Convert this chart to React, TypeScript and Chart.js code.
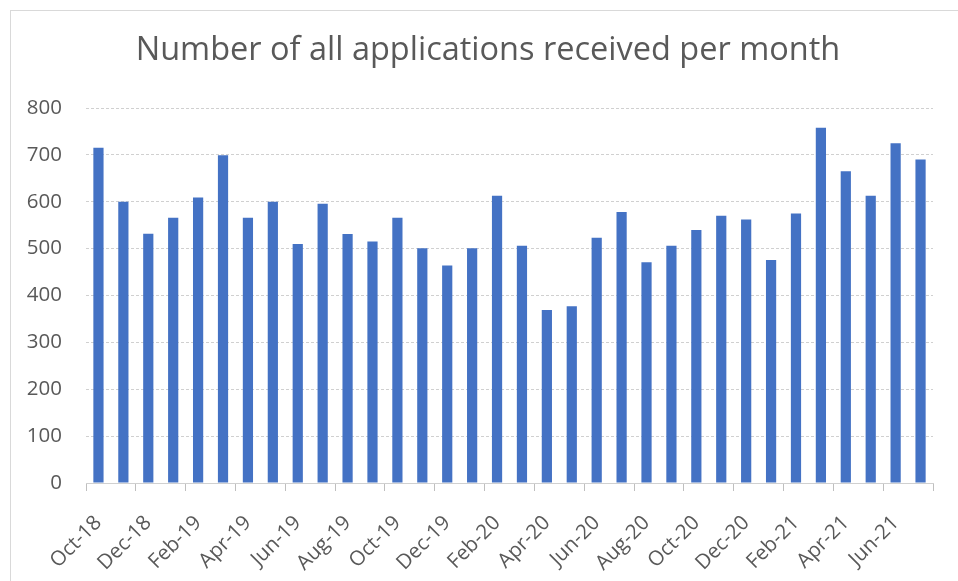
import React, { useEffect, useRef } from 'react';
import { Chart, registerables } from 'chart.js';

Chart.register(...registerables);

const chartTitle = 'Number of all applications received per month';

const months = [
  'Oct-18', 'Nov-18', 'Dec-18', 'Jan-19', 'Feb-19', 'Mar-19', 'Apr-19', 'May-19', 'Jun-19', 'Jul-19',
  'Aug-19', 'Sep-19', 'Oct-19', 'Nov-19', 'Dec-19', 'Jan-20', 'Feb-20', 'Mar-20', 'Apr-20', 'May-20',
  'Jun-20', 'Jul-20', 'Aug-20', 'Sep-20', 'Oct-20', 'Nov-20', 'Dec-20', 'Jan-21', 'Feb-21', 'Mar-21',
  'Apr-21', 'May-21', 'Jun-21', 'Jul-21',
];

const applications = [
  715, 600, 532, 566, 609, 699, 566, 600, 510, 596,
  531, 515, 566, 501, 464, 501, 613, 506, 369, 377,
  523, 578, 471, 506, 540, 570, 562, 476, 575, 758,
  665, 613, 725, 690,
];

const yMin = 0;
const yMax = 800;
const yStep = 100;

const titleShift = {
  id: 'titleShift',
  afterLayout(chart: any) {
    const t = chart.titleBlock;
    if (t) {
      const shift = 43;
      t.left += shift;
      t.width -= shift;
    }
  },
};

export default function App() {
  const ref = useRef<HTMLCanvasElement>(null);

  useEffect(() => {
    document.body.style.margin = '0';
    document.body.style.overflow = 'hidden';
    const font = "'Open Sans', 'Liberation Sans', sans-serif";
    const text = '#595959';
    const chart = new Chart(ref.current!, {
      type: 'bar',
      data: {
        labels: months,
        datasets: [
          {
            label: 'Applications',
            data: applications,
            backgroundColor: '#4472C4',
            borderWidth: 0,
            categoryPercentage: 1,
            barPercentage: 0.41,
          },
        ],
      },
      plugins: [titleShift],
      options: {
        responsive: false,
        animation: false,
        layout: { padding: { left: 0, right: 25, top: 0, bottom: 0 } },
        plugins: {
          legend: { display: false },
          tooltip: { enabled: false },
          title: {
            display: true,
            text: chartTitle,
            color: text,
            font: { family: font, size: 32.5, weight: 'normal' },
            padding: { top: 31.5, bottom: 37.5 },
          },
        },
        scales: {
          x: {
            offset: true,
            afterFit: (scale: any) => {
              scale.paddingLeft = 0;
              scale.paddingRight = 0;
              scale.height = 98;
            },
            grid: {
              offset: true,
              drawOnChartArea: false,
              drawTicks: true,
              tickLength: 8,
              color: (ctx: any) =>
                ctx.index === undefined || ctx.index % 2 === 0 ? '#bfbfbf' : 'rgba(0,0,0,0)',
            },
            border: { display: true, color: '#d0d0d0', width: 1 },
            ticks: {
              autoSkip: false,
              maxRotation: 45,
              minRotation: 45,
              padding: 20,
              color: text,
              font: { family: font, size: 20.5 },
              callback: (_v: any, i: number) => (i % 2 === 0 ? months[i] : ''),
            },
          },
          y: {
            min: yMin,
            max: yMax,
            afterFit: (scale: any) => {
              scale.width = 86;
            },
            grid: {
              drawTicks: false,
              color: '#d0d0d0',
            },
            border: { display: false, dash: [3, 2] },
            ticks: {
              stepSize: yStep,
              padding: 24,
              color: text,
              font: { family: font, size: 20.5 },
            },
          },
        },
      },
    });
    return () => chart.destroy();
  }, []);

  return (
    <div style={{ position: 'relative', width: 958, height: 581, background: '#fff', overflow: 'hidden' }}>
      <div
        style={{
          position: 'absolute',
          left: 10,
          top: 10,
          width: 960,
          height: 580,
          borderLeft: '1px solid #d9d9d9',
          borderTop: '1px solid #d9d9d9',
        }}
      />
      <canvas ref={ref} width={958} height={581} style={{ position: 'absolute', left: 0, top: 0 }} />
    </div>
  );
}
